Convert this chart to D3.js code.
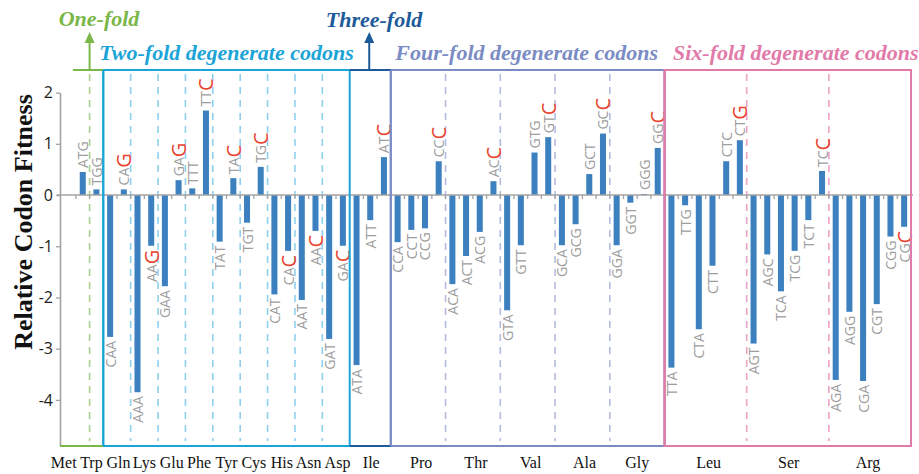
<!DOCTYPE html>
<html><head><meta charset="utf-8">
<script src="https://cdn.jsdelivr.net/npm/d3@7"></script>
<style>html,body{margin:0;padding:0;background:#fff;}svg{display:block;}</style>
</head><body>
<svg id="chart" width="919" height="474"></svg>
<script>
// ---------------- DATA ----------------
const codons = ["ATG","TGG","CAA","CAG","AAA","AAG","GAA","GAG","TTT","TTC","TAT","TAC","TGT","TGC","CAT","CAC","AAT","AAC","GAT","GAC","ATA","ATT","ATC","CCA","CCT","CCG","CCC","ACA","ACT","ACG","ACC","GTA","GTT","GTG","GTC","GCA","GCG","GCT","GCC","GGA","GGT","GGG","GGC","TTA","TTG","CTA","CTT","CTC","CTG","AGT","AGC","TCA","TCG","TCT","TCC","AGA","AGG","CGA","CGT","CGG","CGC"];
const fitness = [0.45,0.11,-2.77,0.11,-3.85,-0.99,-1.78,0.29,0.13,1.65,-0.91,0.33,-0.54,0.55,-1.94,-1.09,-2.05,-0.70,-2.81,-0.99,-3.32,-0.49,0.74,-0.92,-0.68,-0.65,0.66,-1.74,-1.19,-0.72,0.27,-2.25,-0.98,0.83,1.13,-0.98,-0.57,0.41,1.20,-0.98,-0.15,0.02,0.92,-3.37,-0.20,-2.62,-1.38,0.66,1.07,-2.90,-1.16,-1.88,-1.09,-0.49,0.47,-3.61,-2.28,-3.63,-2.13,-0.81,-0.62];
const aminoAcids = ["Met","Trp","Gln","Lys","Glu","Phe","Tyr","Cys","His","Asn","Asp","Ile","Pro","Thr","Val","Ala","Gly","Leu","Ser","Arg"];
const codonsPerAA = [1,1,2,2,2,2,2,2,2,2,2,3,4,4,4,4,4,6,6,6];
const optimalCodons = ["CAG","AAG","GAG","TTC","TAC","TGC","CAC","AAC","GAC","ATC","CCC","ACC","GTC","GCC","GGC","CTG","TCC","CGC"];
const classNames = ["One-fold","Two-fold degenerate codons","Three-fold","Four-fold degenerate codons","Six-fold degenerate codons"];
const classFirstAA = [0,2,11,12,17];
const classLastAA = [1,10,11,16,19];
const yTicks = [2,1,0,-1,-2,-3,-4];
const yTitle = "Relative Codon Fitness";

// ---------------- STYLE ----------------
const classColors = ["#7ab648","#1ba4d7","#1c5a99","#7b8cc4","#e27aa9"];
const dashColors  = ["#a8cf8c","#8fd0ee","#1c5a99","#b3bcdf","#eea2c4"];
const barColor = "#3d80bf", axisColor = "#a3a3a3", labelGray = "#9e9e9e", red = "#e8432e";
const boxTop = 70, boxBottom = 446;
const labelFont = "'Open Sans', sans-serif";

const svg = d3.select("#chart");
const y = d3.scaleLinear().domain([-4.9, 2]).range([446, 92.6]);
const x = d3.scaleBand().domain(codons).range([75.9, 911]).paddingInner(0.56).paddingOuter(0.28);
const step = x.step(), r0 = x.range()[0];
const edge = i => r0 + i * step;
const cx = c => x(c) + x.bandwidth() / 2;
const aaStart = []; { let s = 0; codonsPerAA.forEach(n => { aaStart.push(s); s += n; }); aaStart.push(s); }
const axisX = 60;

// dashed separators
classFirstAA.forEach((f, k) => {
  for (let a = f + 1; a <= classLastAA[k]; a++) {
    svg.append("line").attr("x1", edge(aaStart[a])).attr("x2", edge(aaStart[a]))
      .attr("y1", 74).attr("y2", 441).attr("stroke", dashColors[k]).attr("stroke-width", 1.6)
      .attr("stroke-dasharray", "7,6");
  }
});

// bars
svg.append("g").selectAll("rect").data(codons).join("rect")
  .attr("x", c => x(c)).attr("width", x.bandwidth())
  .attr("y", (c, i) => Math.min(y(fitness[i]), y(0)))
  .attr("height", (c, i) => Math.abs(y(fitness[i]) - y(0)))
  .attr("fill", barColor);

// zero line + ticks
svg.append("line").attr("x1", axisX - 3).attr("x2", edge(codons.length) + 2)
  .attr("y1", y(0)).attr("y2", y(0)).attr("stroke", axisColor).attr("stroke-width", 1.6);
svg.append("g").selectAll("line").data(d3.range(codons.length + 1)).join("line")
  .attr("x1", i => edge(i)).attr("x2", i => edge(i)).attr("y1", y(0)).attr("y2", y(0) + 4)
  .attr("stroke", axisColor).attr("stroke-width", 1.3);

// y axis
const ya = svg.append("g").attr("transform", `translate(${axisX},0)`)
  .call(d3.axisLeft(y).tickValues(yTicks).tickSize(4).tickSizeOuter(0).tickFormat(d => String(d)));
ya.select(".domain").attr("stroke", axisColor).attr("stroke-width", 1.6);
ya.selectAll(".tick line").attr("stroke", axisColor).attr("stroke-width", 1.3);
ya.selectAll(".tick text").attr("x", -7).attr("font-family", labelFont).attr("font-size", 16).attr("fill", "#222");

// codon labels
function rotText(px, py, anchor, txt, size, col) {
  return svg.append("text")
    .attr("transform", `translate(${px},${py}) rotate(-90)`)
    .attr("text-anchor", anchor).attr("dominant-baseline", "central")
    .attr("font-family", labelFont).attr("font-size", size).attr("fill", col).text(txt);
}
codons.forEach((c, i) => {
  const v = fitness[i], pos = v >= 0, px = cx(c);
  const y0 = pos ? y(v) - 4 : y(v) + 4;
  if (optimalCodons.includes(c)) {
    if (pos) {
      const g = rotText(px, y0, "start", c.slice(0, 2), 14, labelGray);
      const L = g.node().getComputedTextLength();
      rotText(px, y0 - L, "start", c.slice(2), 20, red);
    } else {
      const r = rotText(px, y0, "end", c.slice(2), 20, red);
      const L = r.node().getComputedTextLength();
      rotText(px, y0 + L, "end", c.slice(0, 2), 14, labelGray);
    }
  } else {
    rotText(px, y0, pos ? "start" : "end", c, 14, labelGray);
  }
});

// boxes
[1, 3, 4].forEach(k => {
  const x0 = edge(aaStart[classFirstAA[k]]), x1 = edge(aaStart[classLastAA[k] + 1]);
  svg.append("rect").attr("x", x0).attr("y", boxTop).attr("width", x1 - x0).attr("height", boxBottom - boxTop)
    .attr("fill", "none").attr("stroke", classColors[k]).attr("stroke-width", 2);
});
// one-fold bracket
{
  const x1 = edge(aaStart[2]);
  svg.append("line").attr("x1", edge(0) - 3).attr("x2", x1).attr("y1", boxTop).attr("y2", boxTop).attr("stroke", classColors[0]).attr("stroke-width", 2);
  svg.append("line").attr("x1", axisX).attr("x2", x1).attr("y1", boxBottom).attr("y2", boxBottom).attr("stroke", classColors[0]).attr("stroke-width", 2);
}
// three-fold bracket
{
  const x0 = edge(aaStart[11]), x1 = edge(aaStart[12]);
  [boxTop, boxBottom].forEach(yy => svg.append("line").attr("x1", x0).attr("x2", x1).attr("y1", yy).attr("y2", yy).attr("stroke", classColors[2]).attr("stroke-width", 2));
}
[1, 3, 4].forEach(k => {
  const x0 = edge(aaStart[classFirstAA[k]]);
  svg.append("line").attr("x1", x0).attr("x2", x0).attr("y1", boxTop).attr("y2", boxBottom).attr("stroke", classColors[k]).attr("stroke-width", 2);
});

// arrows
function arrow(xx, col) {
  svg.append("line").attr("x1", xx).attr("x2", xx).attr("y1", boxTop).attr("y2", 40).attr("stroke", col).attr("stroke-width", 2);
  svg.append("path").attr("d", `M${xx - 5},${43} L${xx},${32} L${xx + 5},${43} Z`).attr("fill", col);
}
arrow(edge(1), classColors[0]);
arrow((edge(aaStart[11]) + edge(aaStart[12])) / 2 - 1, classColors[2]);

// class titles
const titleFont = "'Liberation Serif', 'Times New Roman', serif";
function title(txt, xx, yy, col) {
  svg.append("text").attr("x", xx).attr("y", yy).attr("text-anchor", "middle").text(txt)
    .attr("font-family", titleFont).attr("font-weight", "bold").attr("font-style", "italic")
    .attr("font-size", 22).attr("fill", col);
}
title(classNames[0], 99, 26, classColors[0]);
title(classNames[2], 374, 27, classColors[2]);
title(classNames[1], (edge(aaStart[2]) + edge(aaStart[11])) / 2, 60, classColors[1]);
title(classNames[3], (edge(aaStart[12]) + edge(aaStart[17])) / 2 - 1, 60, classColors[3]);
title(classNames[4], (edge(aaStart[17]) + edge(aaStart[20])) / 2 + 8, 60, classColors[4]);

// amino acid labels
const aaDx = {Met: -19, Trp: -5, Gln: 1.5, His: 0.5, Asp: 1.5, Ile: 1, Pro: 3, Thr: 3, Val: 3, Ala: 2, Leu: 3, Ser: 1, Arg: -2};
aminoAcids.forEach((a, i) => {
  const c = (edge(aaStart[i]) + edge(aaStart[i + 1])) / 2 + (aaDx[a] || 0);
  svg.append("text").attr("x", c).attr("y", 468).attr("text-anchor", "middle").text(a)
    .attr("font-family", titleFont).attr("font-size", 16).attr("fill", "#111");
});

// y title
svg.append("text").attr("transform", "translate(32,222) rotate(-90)").attr("text-anchor", "middle")
  .text(yTitle).attr("font-family", titleFont).attr("font-weight", "bold").attr("font-size", 26).attr("fill", "#111");
</script>
</body></html>
